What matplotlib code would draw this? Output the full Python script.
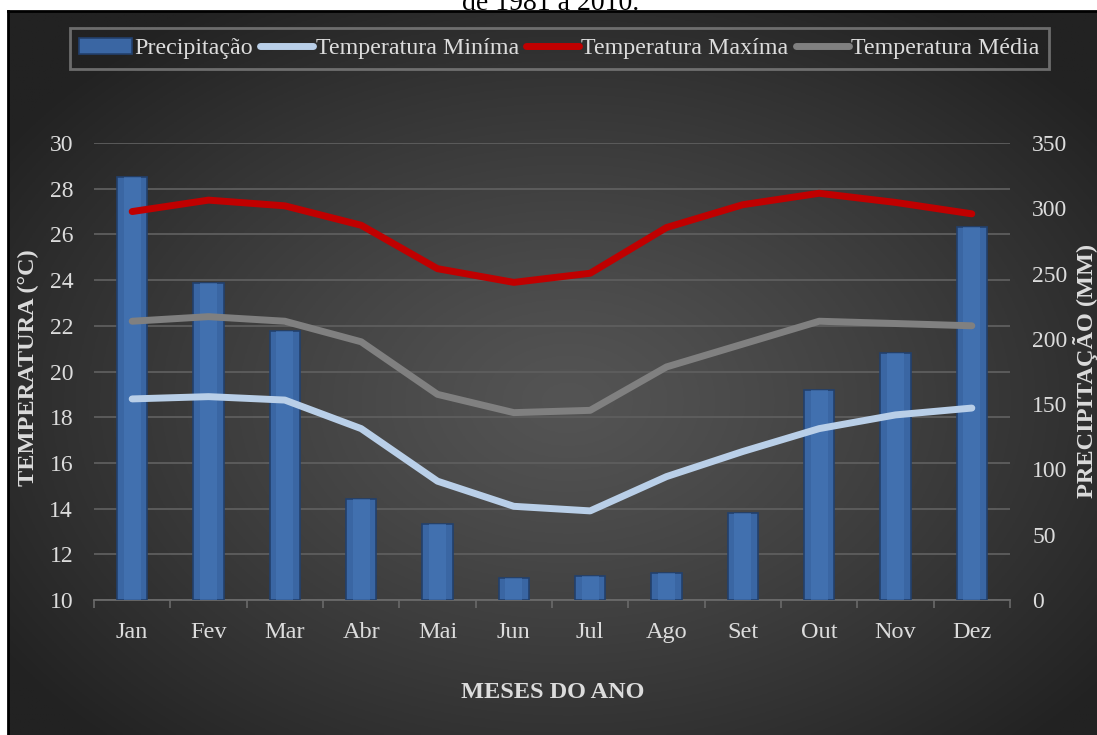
import numpy as np
import matplotlib.pyplot as plt
from matplotlib.lines import Line2D
from matplotlib.patches import Patch

plt.rcParams['font.family'] = ['Liberation Serif', 'DejaVu Serif']

# Normais climatológicas mensais
meses = ['Jan', 'Fev', 'Mar', 'Abr', 'Mai', 'Jun', 'Jul', 'Ago', 'Set', 'Out', 'Nov', 'Dez']
precipitacao = [324, 243, 206, 77, 58, 17, 18, 21, 67, 161, 189, 286]
temp_min = [18.8, 18.9, 18.75, 17.5, 15.2, 14.1, 13.9, 15.4, 16.5, 17.5, 18.1, 18.4]
temp_max = [27.0, 27.5, 27.25, 26.4, 24.5, 23.9, 24.3, 26.3, 27.3, 27.8, 27.4, 26.9]
temp_med = [22.2, 22.4, 22.2, 21.3, 19.0, 18.2, 18.3, 20.2, 21.2, 22.2, 22.1, 22.0]

W, H = 1097, 735
fig = plt.figure(figsize=(W / 100, H / 100), dpi=100)
fig.patch.set_facecolor('white')

# fundo com gradiente radial
bg = fig.add_axes([8 / W, 0, 1 - 8 / W, 1 - 11 / H])
bg.set_axis_off()
gx, gy = np.meshgrid(np.linspace(0, 1089, 400), np.linspace(0, 724, 300))
r = np.sqrt(((gx - 560) / 680) ** 2 + ((gy - 390) / 470) ** 2)
r = np.clip(r, 0, 1)
claro, escuro = 0x54, 0x22
g = (claro + (escuro - claro) * r ** 1.2) / 255
bg.imshow(np.dstack([g, g, g]), extent=[0, 1, 0, 1], aspect='auto', origin='upper')
bg.set_xlim(0, 1)
bg.set_ylim(0, 1)
fig.add_artist(Line2D([8 / W, 1], [1 - 11 / H, 1 - 11 / H], color='black', lw=2, transform=fig.transFigure))
fig.add_artist(Line2D([8 / W, 8 / W], [0, 1 - 11 / H], color='black', lw=2, transform=fig.transFigure))

fig.text(0.502, 1 - 10 / H, 'de 1981 a 2010.', ha='center', va='baseline', fontsize=20, color='black')

cor_texto = '#dcdcdc'
cor_grade = '#5e5e5e'
x = np.arange(len(meses))

rect = [94 / W, 1 - 600 / H, (1010 - 94) / W, (600 - 143) / H]
ax = fig.add_axes(rect)
ax.patch.set_visible(False)
ax.set_xlim(-0.5, 11.5)
ax.set_ylim(10, 30)
ax.set_yticks(range(10, 31, 2))
ax.grid(axis='y', color=cor_grade, lw=1.3)
ax.set_axisbelow(True)
ax.set_xticks(x)
ax.set_xticklabels(meses)
ax.set_xticks(np.arange(-0.5, 12, 1), minor=True)
ax.tick_params(axis='x', which='major', length=0, pad=16, labelsize=17.5, labelcolor=cor_texto)
ax.tick_params(axis='x', which='minor', length=6, color='#6a6a6a', width=1.2)
ax.tick_params(axis='y', length=0, pad=15, labelsize=17, labelcolor=cor_texto)
for s in ['top', 'right', 'left']:
    ax.spines[s].set_visible(False)
ax.spines['bottom'].set_color('#6a6a6a')
ax.spines['bottom'].set_linewidth(1.3)

# barras de precipitação no eixo secundário
ax2 = ax.twinx()
ax2.patch.set_visible(False)
ax2.set_ylim(0, 350)
ax2.set_yticks(range(0, 351, 50))
ax2.tick_params(axis='y', length=0, pad=16, labelsize=17, labelcolor=cor_texto)
for s in ax2.spines.values():
    s.set_visible(False)
ax2.bar(x, precipitacao, width=0.4, color='#3a66a3', edgecolor='#22406c', lw=1.2, zorder=2)
ax2.bar(x, precipitacao, width=0.22, color='#4677b8', lw=0, alpha=0.6, zorder=3)

# linhas de temperatura
ax3 = ax.twinx()
ax3.set_ylim(10, 30)
ax3.set_axis_off()
ax3.plot(x, temp_min, color='#b9cfe8', lw=5, solid_capstyle='round', solid_joinstyle='round')
ax3.plot(x, temp_max, color='#c00000', lw=5, solid_capstyle='round', solid_joinstyle='round')
ax3.plot(x, temp_med, color='#808080', lw=5, solid_capstyle='round', solid_joinstyle='round')

ax.set_zorder(1)
ax2.set_zorder(2)
ax3.set_zorder(3)

fig.text(28 / W, 1 - 368 / H, 'TEMPERATURA (°C)', rotation=90, ha='center', va='center',
         fontsize=17.5, fontweight='bold', color=cor_texto)
fig.text(1085 / W, 1 - 371 / H, 'PRECIPITAÇÃO (MM)', rotation=90, ha='center', va='center',
         fontsize=17.5, fontweight='bold', color=cor_texto)
fig.text(553 / W, 1 - 692 / H, 'MESES DO ANO', ha='center', va='center',
         fontsize=17.5, fontweight='bold', color=cor_texto)

handles = [
    Patch(facecolor='#3a66a3', edgecolor='#22406c', lw=1.2),
    Line2D([], [], color='#b9cfe8', lw=5, solid_capstyle='round'),
    Line2D([], [], color='#c00000', lw=5, solid_capstyle='round'),
    Line2D([], [], color='#808080', lw=5, solid_capstyle='round'),
]
rotulos = ['Precipitação', 'Temperatura Miníma', 'Temperatura Maxíma', 'Temperatura Média']
leg = fig.legend(handles, rotulos, loc='center', ncol=4, frameon=True, fontsize=17.3,
                 bbox_to_anchor=(0.510, 1 - 48.5 / H), handlelength=2.2, handletextpad=0.1,
                 columnspacing=0.3, borderpad=0.4, fancybox=False, labelcolor=cor_texto)
leg.get_frame().set_facecolor('none')
leg.get_frame().set_edgecolor('#7f7f7f')
leg.get_frame().set_linewidth(2)

fig.savefig('out.png', dpi=100)
